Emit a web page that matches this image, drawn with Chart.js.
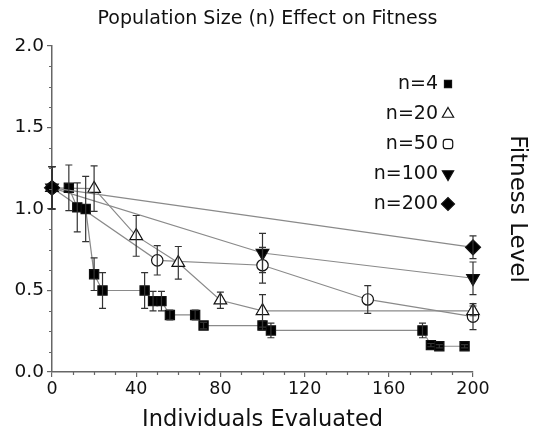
<!DOCTYPE html>
<html><head><meta charset="utf-8">
<script src="https://cdn.jsdelivr.net/npm/chart.js@4.4.1/dist/chart.umd.min.js"></script>
<style>html,body{margin:0;padding:0;background:#fff;}canvas{display:block;}</style>
</head><body>
<canvas id="c" width="535" height="429"></canvas>
<script>
const titleText = 'Population Size (n) Effect on Fitness';
const xTitleText = 'Individuals Evaluated';
const yTitleText = 'Fitness Level';
const seriesLabels = ['n=4', 'n=20', 'n=50', 'n=100', 'n=200'];

const n4X   = [8, 12, 16, 20, 24, 44, 48, 52, 56, 68, 72, 100, 104, 176, 180, 184, 196];
const n4Y   = [1.13, 1.01, 1.00, 0.60, 0.50, 0.50, 0.435, 0.435, 0.35, 0.35, 0.285, 0.285, 0.255, 0.255, 0.165, 0.158, 0.158];
const n4Err = [0.14, 0.15, 0.20, 0.10, 0.11, 0.11, 0.06, 0.06, 0.03, 0.03, 0.02, 0.03, 0.045, 0.045, 0.01, 0.01, 0.01];

const n20X   = [0, 20, 40, 60, 80, 100, 200];
const n20Y   = [1.13, 1.125, 0.835, 0.67, 0.44, 0.375, 0.375];
const n20Err = [0.13, 0.14, 0.125, 0.10, 0.05, 0.10, 0.03];

const n50X   = [0, 50, 100, 150, 200];
const n50Y   = [1.13, 0.685, 0.655, 0.445, 0.34];
const n50Err = [0.13, 0.09, 0.11, 0.085, 0.08];

const n100X   = [0, 100, 200];
const n100Y   = [1.13, 0.73, 0.575];
const n100Err = [0.13, 0.12, 0.10];

const n200X   = [0, 200];
const n200Y   = [1.13, 0.765];
const n200Err = [0.13, 0.07];

const xTicksMajor = [0, 40, 80, 120, 160, 200];
const yTicksMajor = [0.0, 0.5, 1.0, 1.5, 2.0];

const errArrays = [n4Err, n20Err, n50Err, n100Err, n200Err];
const pts = (xs, ys) => xs.map((x, i) => ({x: x, y: ys[i]}));

const FONT = "'DejaVu Sans', 'Liberation Sans', sans-serif";
const TXT = '#111';
const LINE = '#8a8a8a';

const markers = [
  {style: 'rect', radius: 6.5, rotation: 0, fill: '#000'},
  {style: 'triangle', radius: 7.3, rotation: 0, fill: '#fff'},
  {style: 'circle', radius: 5.7, rotation: 0, fill: '#fff'},
  {style: 'triangle', radius: 7.3, rotation: 180, fill: '#000'},
  {style: 'rectRot', radius: 7.5, rotation: 0, fill: '#000'}
];
const legendMarkers = [
  {style: 'rect', radius: 5, rotation: 0, fill: '#000'},
  {style: 'triangle', radius: 6.5, rotation: 0, fill: '#fff'},
  {style: 'rectRounded', radius: 5.5, rotation: 0, fill: '#fff'},
  {style: 'triangle', radius: 6.5, rotation: 180, fill: '#000'},
  {style: 'rectRot', radius: 6.5, rotation: 0, fill: '#000'}
];

const seriesPts = [pts(n4X, n4Y), pts(n20X, n20Y), pts(n50X, n50Y), pts(n100X, n100Y), pts(n200X, n200Y)];
const orders = [1, 2, 3, 4, 0];

const datasets = seriesLabels.map((lab, i) => ({
  label: lab,
  data: seriesPts[i],
  borderColor: LINE,
  borderWidth: 1.2,
  pointStyle: markers[i].style,
  pointRadius: markers[i].radius,
  pointRotation: markers[i].rotation,
  pointBackgroundColor: markers[i].fill,
  pointBorderColor: '#111',
  pointBorderWidth: 1.2,
  tension: 0,
  clip: false,
  order: orders[i]
}));

const errPlugin = {
  id: 'errbars',
  afterDatasetsDraw(chart) {
    const ctx = chart.ctx, xs = chart.scales.x, ys = chart.scales.y;
    ctx.save();
    ctx.strokeStyle = '#333';
    ctx.lineWidth = 1.2;
    chart.data.datasets.forEach((ds, di) => {
      const errs = errArrays[di];
      ds.data.forEach((p, i) => {
        const e = errs[i];
        if (!e) return;
        const px = xs.getPixelForValue(p.x);
        const y1 = ys.getPixelForValue(p.y + e), y2 = ys.getPixelForValue(p.y - e);
        ctx.beginPath();
        ctx.moveTo(px, y1); ctx.lineTo(px, y2);
        ctx.moveTo(px - 3.5, y1); ctx.lineTo(px + 3.5, y1);
        ctx.moveTo(px - 3.5, y2); ctx.lineTo(px + 3.5, y2);
        ctx.stroke();
      });
    });
    ctx.restore();
  }
};

const minorTickPlugin = {
  id: 'minorTicks',
  afterDraw(chart) {
    const ctx = chart.ctx, xs = chart.scales.x, ys = chart.scales.y;
    const ca = chart.chartArea;
    ctx.save();
    ctx.strokeStyle = '#666';
    ctx.lineWidth = 1.2;
    ctx.beginPath();
    for (let v = 10; v < 200; v += 10) {
      if (v % 40 === 0) continue;
      const px = Math.round(xs.getPixelForValue(v)) + 0.5;
      ctx.moveTo(px, ca.bottom); ctx.lineTo(px, ca.bottom + 3);
    }
    for (let k = 1; k < 16; k++) {
      if (k % 4 === 0) continue;
      const py = Math.round(ys.getPixelForValue(k * 0.125)) + 0.5;
      ctx.moveTo(ca.left - 3, py); ctx.lineTo(ca.left, py);
    }
    ctx.stroke();
    ctx.restore();
  }
};

function drawMarker(ctx, m, x, y) {
  ctx.save();
  ctx.fillStyle = m.fill;
  ctx.strokeStyle = '#111';
  ctx.lineWidth = 1.2;
  Chart.helpers.drawPoint(ctx, {pointStyle: m.style, radius: m.radius, rotation: m.rotation, borderWidth: 1.2}, x, y);
  ctx.restore();
}

const legendPlugin = {
  id: 'customLegend',
  afterDraw(chart) {
    const ctx = chart.ctx;
    const xs = chart.scales.x;
    const textRight = xs.right - 35;
    const markX = xs.right - 25;
    const y0 = chart.chartArea.top + 38;
    ctx.save();
    ctx.font = "19px " + FONT;
    ctx.fillStyle = TXT;
    ctx.textAlign = 'right';
    ctx.textBaseline = 'middle';
    seriesLabels.forEach((lab, i) => {
      const y = y0 + i * 30;
      ctx.fillText(lab, textRight, y);
      drawMarker(ctx, legendMarkers[i], markX, y);
    });
    ctx.restore();
  }
};

new Chart(document.getElementById('c'), {
  type: 'line',
  data: {datasets: datasets},
  plugins: [errPlugin, minorTickPlugin, legendPlugin],
  options: {
    responsive: false,
    animation: false,
    events: [],
    layout: {padding: 0},
    plugins: {
      legend: {display: false},
      tooltip: {enabled: false},
      title: {
        display: true,
        text: titleText,
        color: TXT,
        font: {family: FONT, size: 19, weight: 'normal', lineHeight: 1.2},
        padding: {top: 8, bottom: 15.2}
      }
    },
    scales: {
      x: {
        type: 'linear',
        min: 0, max: 200,
        afterBuildTicks(s) { s.ticks = xTicksMajor.map(v => ({value: v})); },
        afterFit(s) { s.height = 57; },
        ticks: {color: TXT, font: {family: FONT, size: 17.5}, padding: 2, maxRotation: 0, autoSkip: false},
        grid: {drawOnChartArea: false, drawTicks: true, tickLength: 5, color: '#666', lineWidth: 1.2},
        border: {display: true, color: '#666', width: 1.5},
        title: {display: true, text: xTitleText, color: TXT, font: {family: FONT, size: 22.5, lineHeight: 0.8}, padding: {top: 0, bottom: 0}}
      },
      y: {
        type: 'linear',
        position: 'left',
        min: 0, max: 2,
        afterBuildTicks(s) { s.ticks = yTicksMajor.map(v => ({value: v})); },
        afterFit(s) { s.width = 52; },
        ticks: {color: TXT, font: {family: FONT, size: 18.5}, padding: 3, callback: v => Number(v).toFixed(1)},
        grid: {drawOnChartArea: false, drawTicks: true, tickLength: 5, color: '#666', lineWidth: 1.2},
        border: {display: true, color: '#666', width: 1.5}
      },
      y2: {
        type: 'linear',
        position: 'right',
        min: 0, max: 2,
        afterFit(s) { s.width = 62; },
        ticks: {display: false},
        grid: {display: false},
        border: {display: false},
        title: {display: true, text: yTitleText, color: TXT, font: {family: FONT, size: 23, lineHeight: 1.2}, padding: {top: 4.2, bottom: 0}}
      }
    }
  }
});
</script>
</body></html>
